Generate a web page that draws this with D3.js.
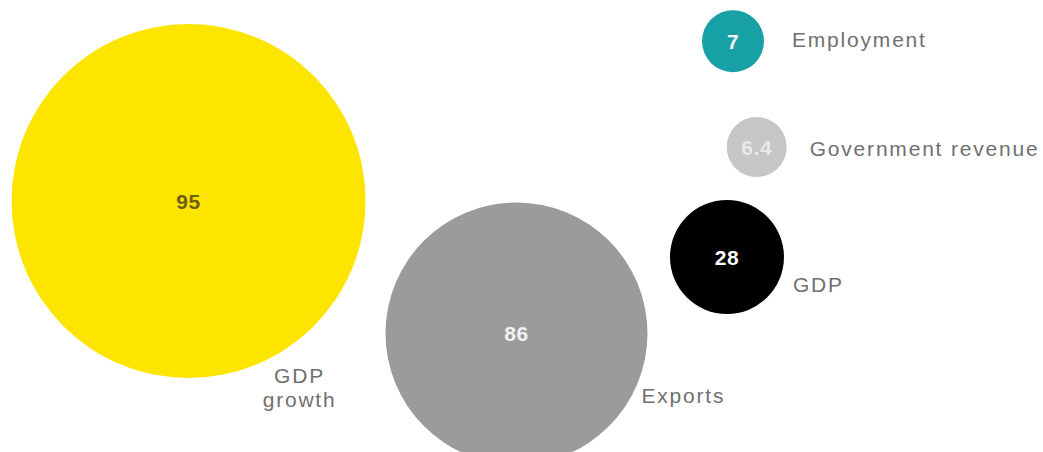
<!DOCTYPE html>
<html>
<head>
<meta charset="utf-8">
<script src="https://cdn.jsdelivr.net/npm/d3@7"></script>
<style>
  html, body { margin: 0; padding: 0; background: #ffffff; }
  svg { display: block; }
  text { font-family: "Liberation Sans", Arial, sans-serif; }
</style>
</head>
<body>
<svg id="chart" width="1043" height="452"></svg>
<script>
// Indicator bubbles: one circle per indicator, sized by its value
const categories = ["GDP growth", "Exports", "GDP", "Employment", "Government revenue"];
const values = [95, 86, 28, 7, 6.4];
const valueLabels = ["95", "86", "28", "7", "6.4"];

// Presentation settings (kept apart from the data)
const fills = ["#fde500", "#9b9b9b", "#000000", "#17a0a6", "#c6c6c6"];
const valueColors = ["#6a6010", "#f2f2f2", "#ffffff", "#f4f4f4", "#e9e9e9"];

// Bubble anchors in unit space; label anchors relative to bubble centres
const anchorU = [0.1808, 0.4952, 0.6970, 0.7028, 0.7255];
const anchorV = [0.4447, 0.7378, 0.5686, 0.0912, 0.3252];
const labelDx = [111, 125, 66, 59, 53];
const labelDy = [182, 70, 35, 6, 9];
const labelAnchor = ["middle", "start", "start", "start", "start"];

const width = 1043, height = 452;
const svg = d3.select("#chart");

const x = d3.scaleLinear().domain([0, 1]).range([0, width]);
const y = d3.scaleLinear().domain([0, 1]).range([0, height]);

// Radius scale, piecewise so small indicators stay legible
const r = d3.scaleLinear()
  .domain([0, 6.4, 7, 28, 86, 95])
  .range([0, 30, 31, 57, 131, 177]);

const data = categories.map((c, i) => ({
  name: c,
  value: values[i],
  label: valueLabels[i],
  cx: x(anchorU[i]),
  cy: y(anchorV[i]),
  fill: fills[i],
  valueColor: valueColors[i],
  dx: labelDx[i],
  dy: labelDy[i],
  anchor: labelAnchor[i]
}));

const g = svg.append("g");

const node = g.selectAll("g.bubble")
  .data(data)
  .join("g")
  .attr("class", "bubble")
  .attr("transform", d => `translate(${d.cx},${d.cy})`);

node.append("circle")
  .attr("r", d => r(d.value))
  .attr("fill", d => d.fill);

node.append("text")
  .attr("text-anchor", "middle")
  .attr("dy", "0.36em")
  .attr("font-size", 21)
  .attr("font-weight", "bold")
  .attr("letter-spacing", 0.6)
  .attr("fill", d => d.valueColor)
  .text(d => d.label);

// Category names; "GDP growth" wraps over two lines
node.append("text")
  .attr("text-anchor", d => d.anchor)
  .attr("font-size", 21)
  .attr("letter-spacing", 1.8)
  .attr("fill", "#707070")
  .each(function(d) {
    const lines = d.name === "GDP growth" ? ["GDP", "growth"] : [d.name];
    d3.select(this).selectAll("tspan")
      .data(lines)
      .join("tspan")
      .attr("x", d.dx)
      .attr("y", (l, j) => d.dy + j * 24)
      .text(l => l);
  });
</script>
</body>
</html>
